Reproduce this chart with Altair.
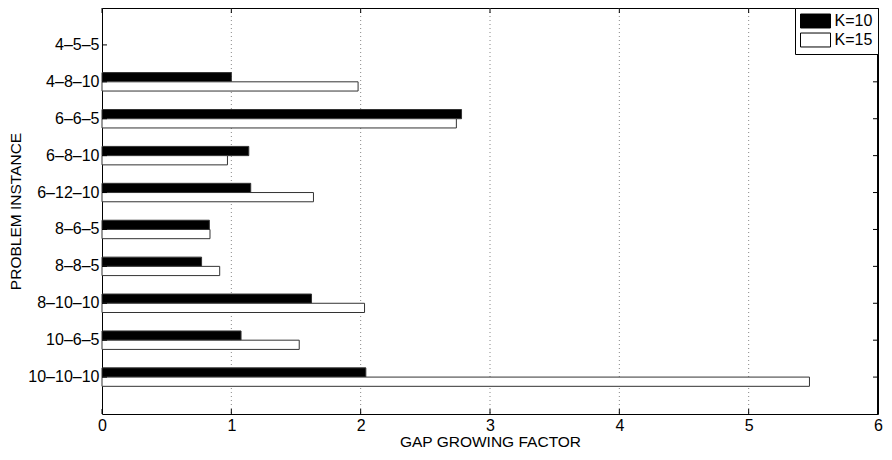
import altair as alt
import pandas as pd

instances = ["4\u20135\u20135", "4\u20138\u201310", "6\u20136\u20135", "6\u20138\u201310", "6\u201312\u201310",
             "8\u20136\u20135", "8\u20138\u20135", "8\u201310\u201310", "10\u20136\u20135", "10\u201310\u201310"]
k10 = [None, 1.00, 2.78, 1.135, 1.15, 0.83, 0.77, 1.62, 1.075, 2.04]
k15 = [None, 1.98, 2.74, 0.97, 1.635, 0.835, 0.91, 2.03, 1.525, 5.47]
series = ["K=10", "K=15"]
x_ticks = [0, 1, 2, 3, 4, 5, 6]
grid_vals = [1, 2, 3, 4, 5]

rows = []
for inst, a, b in zip(instances, k10, k15):
    rows.append({"instance": inst, "series": series[0], "value": a})
    rows.append({"instance": inst, "series": series[1], "value": b})
bars_df = pd.DataFrame(rows)
inst_df = pd.DataFrame({"instance": instances})
tick_df = pd.DataFrame({"value": x_ticks})
grid_df = pd.DataFrame({"value": grid_vals})

FONT = "Liberation Sans"
W, H = 776, 406

xscale = alt.Scale(domain=[0, 6], nice=False, zero=True)
yscale = alt.Scale(paddingInner=0, paddingOuter=0.5)

xaxis = alt.Axis(title="GAP GROWING FACTOR", values=x_ticks, format="d", grid=False,
                 ticks=False, domain=False, labelFlush=False, labelFont=FONT, labelFontSize=16,
                 labelColor="black", labelPadding=3, titleFont=FONT, titleFontSize=15.5,
                 titleFontWeight="normal", titleColor="black", titlePadding=1)
yaxis = alt.Axis(title="PROBLEM INSTANCE", grid=False, ticks=False, domain=False,
                 labelFont=FONT, labelFontSize=16, labelColor="black", labelPadding=3,
                 titleFont=FONT, titleFontSize=15.5, titleFontWeight="normal",
                 titleColor="black", titlePadding=4)

X = lambda: alt.X("value:Q", scale=xscale, axis=xaxis, title="GAP GROWING FACTOR")
Y = lambda: alt.Y("instance:N", sort=instances, scale=yscale, axis=yaxis, title="PROBLEM INSTANCE")

grid = alt.Chart(grid_df).mark_rule(color="#888", strokeDash=[1, 3], strokeWidth=1).encode(
    x=X()
)

bars = alt.Chart(bars_df).mark_bar(stroke="#333", strokeWidth=1, opacity=1).encode(
    x=X(),
    y=Y(),
    yOffset=alt.YOffset("series:N", sort=series, scale=alt.Scale(paddingInner=0, paddingOuter=1)),
    fill=alt.Fill("series:N", sort=series,
                  scale=alt.Scale(domain=series, range=["#000000", "#ffffff"]),
                  legend=alt.Legend(title=None, orient="top-right", offset=0, padding=5,
                                    strokeColor="black", fillColor="white",
                                    symbolType="M-2,-0.93H2V0.93H-2Z", symbolSize=225,
                                    symbolStrokeColor="#000", symbolStrokeWidth=1,
                                    symbolOffset=7.5, labelOffset=11, labelFont=FONT,
                                    labelFontSize=16, labelColor="black", rowPadding=1,
                                    symbolOpacity=1)),
)

yt_left = alt.Chart(inst_df).mark_rule(color="black").encode(
    y=Y(), x=alt.value(0), x2=alt.value(5))
yt_right = alt.Chart(inst_df).mark_rule(color="black").encode(
    y=Y(), x=alt.value(W - 5), x2=alt.value(W))
xt_bottom = alt.Chart(tick_df).mark_rule(color="black").encode(
    x=X(), y=alt.value(H - 5), y2=alt.value(H))
xt_top = alt.Chart(tick_df).mark_rule(color="black").encode(
    x=X(), y=alt.value(0), y2=alt.value(5))
frame_right = alt.Chart(tick_df).mark_rule(color="black", strokeWidth=1).encode(
    x=alt.value(W), y=alt.value(0), y2=alt.value(H))

chart = alt.layer(grid, bars, yt_left, yt_right, xt_bottom, xt_top, frame_right).properties(
    width=W, height=H,
    autosize=alt.AutoSizeParams(type="none"),
    padding={"left": 94, "top": 0, "right": 6, "bottom": 36},
    background="white",
).configure_view(stroke="black", strokeWidth=1)

chart.save("out.html", embed_options={"renderer": "svg", "actions": False})
